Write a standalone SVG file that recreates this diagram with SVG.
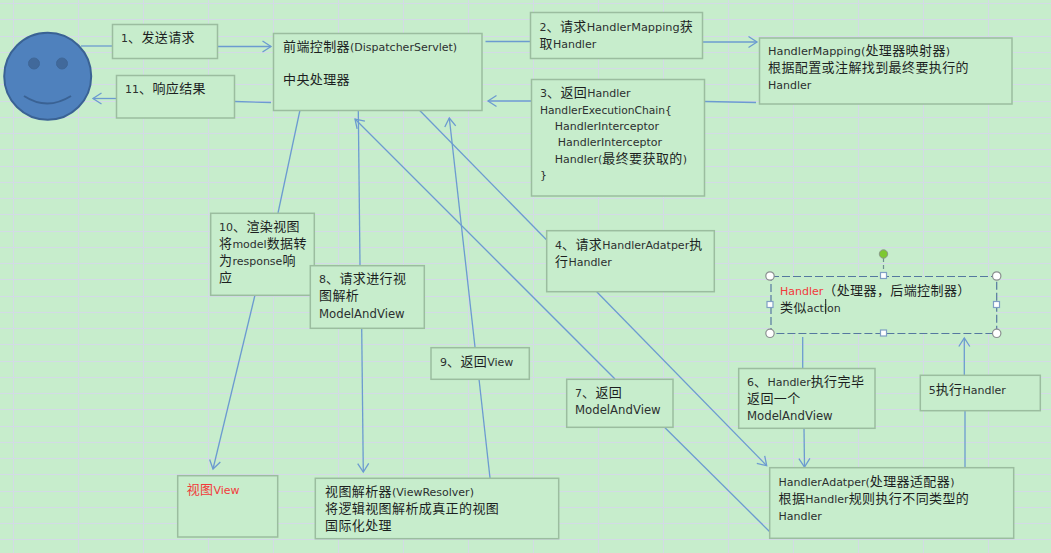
<svg xmlns="http://www.w3.org/2000/svg" width="1051" height="553" viewBox="0 0 1051 553">
<style>
.b{fill:#c7edcc;stroke:#9bbd9f;stroke-width:1.5}
.t{font-family:"DejaVu Sans","Noto Sans CJK SC",sans-serif;font-size:11px;fill:#2c3030}
.c{font-family:"Noto Sans CJK SC","DejaVu Sans",sans-serif;font-size:13px;letter-spacing:.4px;fill:#1c1f1f}
.m{font-size:11.7px}
.r,.r .c{fill:#f23a3a}
.l{fill:none;stroke:#6c9bd0;stroke-width:1.3}
.a{marker-end:url(#ah)}
.hc{fill:#fff;stroke:#8a8f8f;stroke-width:1.2}
.hs{fill:#fff;stroke:#7f9fc4;stroke-width:1.2}
.g{fill:none;stroke:#d3dae6;stroke-width:1}
</style>
<defs>
<marker id="ah" markerUnits="userSpaceOnUse" markerWidth="14" markerHeight="14" refX="10" refY="7" orient="auto">
<path d="M1.5 1.5L10 7L1.5 12.5" fill="none" stroke="#6c9bd0" stroke-width="1.3"/>
</marker>
</defs>
<rect width="1051" height="553" fill="#c7edcc"/>
<path class="g" d="M13.5 0V553M78.5 0V553M143.5 0V553M208.5 0V553M273.5 0V553M338.5 0V553M403.5 0V553M468.5 0V553M533.5 0V553M598.5 0V553M663.5 0V553M728.5 0V553M793.5 0V553M858.5 0V553M923.5 0V553M988.5 0V553"/>
<path class="g" d="M0 3.5H1051M0 19.5H1051M0 36.5H1051M0 52.5H1051M0 68.5H1051M0 84.5H1051M0 101.5H1051M0 117.5H1051M0 133.5H1051M0 149.5H1051M0 166.5H1051M0 182.5H1051M0 198.5H1051M0 214.5H1051M0 231.5H1051M0 247.5H1051M0 263.5H1051M0 279.5H1051M0 296.5H1051M0 312.5H1051M0 328.5H1051M0 344.5H1051M0 361.5H1051M0 377.5H1051M0 393.5H1051M0 409.5H1051M0 426.5H1051M0 442.5H1051M0 458.5H1051M0 474.5H1051M0 491.5H1051M0 507.5H1051M0 523.5H1051M0 539.5H1051"/>

<g id="connectors">
<path class="l" d="M81 46H112"/><path class="l a" d="M218 46.5H271"/>
<path class="l" d="M271 102.5L235 101.5"/><path class="l a" d="M116 98.5H93"/>
<path class="l" d="M485.5 41.5H530.5"/><path class="l a" d="M702.5 42H757"/>
<path class="l" d="M756 102.5L705 101.5"/><path class="l a" d="M531 101H488"/>
<path class="l" d="M300 110L278 213"/><path class="l a" d="M255 295L213 469"/>
<path class="l" d="M358.3 111L360 265"/><path class="l a" d="M361.7 328L363.3 472"/>
<path class="l" d="M490 478L479 379"/><path class="l a" d="M475 347L449.3 118"/>
<path class="l" d="M417.3 108L546.7 240"/><path class="l a" d="M596.7 291.7L766.7 465.7"/>
<path class="l" d="M770 532L665 427.7"/><path class="l a" d="M615 379L355 119"/>
<path class="l" d="M802.7 337V368"/><path class="l a" d="M804 428L804.5 467"/>
<path class="l" d="M965 467.7V410.7"/><path class="l a" d="M964.3 375V338"/>
</g>

<g id="user">
<circle cx="47.7" cy="76.3" r="43.5" fill="#4f81bd" stroke="#3a6294" stroke-width="2"/>
<circle cx="34" cy="63.5" r="5.5" fill="#41699b" stroke="#3f6798"/>
<circle cx="62" cy="63.5" r="5.5" fill="#41699b" stroke="#3f6798"/>
<path d="M24 96Q47 111 71 96" fill="none" stroke="#3a6294" stroke-width="2"/>
</g>

<g id="n1"><rect class="b" x="112.5" y="24.5" width="105" height="34"/>
<text class="t" x="121" y="41.5">1<tspan class="c">、发送请求</tspan></text></g>

<g id="n11"><rect class="b" x="116.5" y="75.5" width="118" height="42.5"/>
<text class="t" x="125" y="92.5">11<tspan class="c">、响应结果</tspan></text></g>

<g id="dispatcher"><rect class="b" x="273.5" y="33.5" width="208.5" height="77"/>
<text class="t" x="283" y="50.5"><tspan class="c">前端控制器</tspan>(DispatcherServlet)</text>
<text class="c" x="283" y="84">中央处理器</text></g>

<g id="n2"><rect class="b" x="530.5" y="12.5" width="172" height="46"/>
<text class="t" x="539.5" y="31">2<tspan class="c">、请求</tspan><tspan style="font-size:11.3px">HandlerMapping</tspan><tspan class="c">获</tspan></text>
<text class="t" x="539.5" y="48"><tspan class="c">取</tspan>Handler</text></g>

<g id="handler-mapping"><rect class="b" x="759.5" y="38" width="252.5" height="66"/>
<text class="t" x="768" y="55"><tspan style="font-size:11.3px">HandlerMapping(</tspan><tspan class="c">处理器映射器</tspan>)</text>
<text class="c" x="768" y="72">根据配置或注解找到最终要执行的</text>
<text class="t" x="768" y="89">Handler</text></g>

<g id="n3"><rect class="b" x="531.5" y="79.5" width="173" height="116.5"/>
<text class="t" x="540" y="97">3<tspan class="c">、返回</tspan>Handler</text>
<text class="t" x="540" y="113.5" style="font-size:10.7px">HandlerExecutionChain{</text>
<text class="t" x="554.7" y="130">HandlerInterceptor</text>
<text class="t" x="557.7" y="146">HandlerInterceptor</text>
<text class="t" x="554.7" y="163">Handler(<tspan class="c">最终要获取的</tspan>)</text>
<text class="t" x="540" y="179">}</text></g>

<g id="n4"><rect class="b" x="546.7" y="230.7" width="167.6" height="61"/>
<text class="t" x="555" y="248.5">4<tspan class="c">、请求</tspan>HandlerAdatper<tspan class="c">执</tspan></text>
<text class="t" x="555" y="265.5"><tspan class="c">行</tspan>Handler</text></g>

<g id="handler">
<path d="M883.5 258V276" stroke="#6f8f8f" stroke-width="1.2" stroke-dasharray="4 3" fill="none"/>
<rect x="771" y="276.5" width="225.7" height="57" fill="#c7edcc" stroke="#55789f" stroke-width="1.2" stroke-dasharray="8 3"/>
<circle cx="883.5" cy="254" r="4.2" fill="#7ec832" stroke="#8a9a8a"/>
<circle class="hc" cx="770" cy="276" r="4.2"/><circle class="hc" cx="996.7" cy="276" r="4.2"/>
<circle class="hc" cx="770" cy="333.3" r="4.2"/><circle class="hc" cx="996.7" cy="333.3" r="4.2"/>
<rect class="hs" x="880.5" y="272.5" width="6" height="6"/><rect class="hs" x="880.5" y="330" width="6" height="6"/>
<rect class="hs" x="767" y="301.5" width="6" height="6"/><rect class="hs" x="993.5" y="301.5" width="6" height="6"/>
<text class="t" x="780" y="294.5"><tspan class="r">Handler</tspan><tspan class="c">（处理器，后端控制器）</tspan></text>
<text class="t" x="780" y="311.5"><tspan class="c">类似</tspan>action</text>
<path d="M825.7 299V314" stroke="#222" stroke-width="1"/>
</g>

<g id="n10"><rect class="b" x="210.7" y="213.3" width="103.6" height="82"/>
<text class="t" x="219" y="231">10<tspan class="c">、渲染视图</tspan></text>
<text class="t" x="219" y="248"><tspan class="c">将</tspan>model<tspan class="c">数据转</tspan></text>
<text class="t" x="219" y="265">
<tspan class="c">为</tspan>response<tspan class="c">响</tspan></text>
<text class="c" x="219" y="282">应</text></g>

<g id="n8"><rect class="b" x="310.3" y="265.7" width="114" height="62.6"/>
<text class="t" x="319" y="283">8<tspan class="c">、请求进行视</tspan></text>
<text class="c" x="319" y="300">图解析</text>
<text class="t m" x="319" y="317.5">ModelAndView</text></g>

<g id="n9"><rect class="b" x="431" y="347.7" width="98.3" height="31.6"/>
<text class="t" x="440" y="365.5">9<tspan class="c">、返回</tspan>View</text></g>

<g id="n7"><rect class="b" x="566.7" y="379.3" width="106.3" height="48"/>
<text class="t" x="575" y="396.5">7<tspan class="c">、返回</tspan></text>
<text class="t m" x="575" y="413.5">ModelAndView</text></g>

<g id="n6"><rect class="b" x="738.7" y="368.5" width="136.3" height="59.8"/>
<text class="t" x="747" y="386">6<tspan class="c">、</tspan>Handler<tspan class="c">执行完毕</tspan></text>
<text class="c" x="747" y="403">返回一个</text>
<text class="t m" x="747" y="420">ModelAndView</text></g>

<g id="n5"><rect class="b" x="920.3" y="375.3" width="120" height="35.4"/>
<text class="t" x="928.7" y="393.5">5<tspan class="c">执行</tspan>Handler</text></g>

<g id="handler-adapter"><rect class="b" x="769.7" y="467.7" width="244" height="70.6"/>
<text class="t" x="778.5" y="486">HandlerAdatper(<tspan class="c">处理器适配器</tspan>)</text>
<text class="t" x="778.5" y="503"><tspan class="c">根据</tspan>Handler<tspan class="c">规则执行不同类型的</tspan></text>
<text class="t" x="778.5" y="519.5">Handler</text></g>

<g id="view"><rect class="b" x="177.7" y="475.7" width="100" height="61.3"/>
<text class="t r" x="186.7" y="493.5"><tspan class="c">视图</tspan>View</text></g>

<g id="view-resolver"><rect class="b" x="315.3" y="478.3" width="243.4" height="60.4"/>
<text class="t" x="325" y="495.5"><tspan class="c">视图解析器</tspan>(ViewResolver)</text>
<text class="c" x="325" y="512.5">将逻辑视图解析成真正的视图</text>
<text class="c" x="325" y="529.5">国际化处理</text></g>
</svg>
